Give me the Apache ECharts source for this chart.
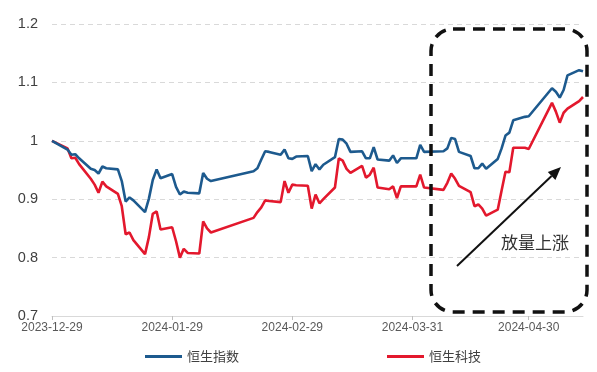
<!DOCTYPE html>
<html>
<head>
<meta charset="utf-8">
<script src="https://cdn.jsdelivr.net/npm/echarts@6/dist/echarts.min.js"></script>
<style>
html,body{margin:0;padding:0;background:#fff;}
#chart{width:597px;height:372px;}
</style>
</head>
<body>
<div id="chart"></div>
<script>
const dates = [
'2023-12-29',
'2024-01-02','2024-01-03','2024-01-04','2024-01-05','2024-01-08','2024-01-09','2024-01-10','2024-01-11','2024-01-12',
'2024-01-15','2024-01-16','2024-01-17','2024-01-18','2024-01-19','2024-01-22','2024-01-23','2024-01-24','2024-01-25','2024-01-26',
'2024-01-29','2024-01-30','2024-01-31',
'2024-02-01','2024-02-02','2024-02-05','2024-02-06','2024-02-07','2024-02-08',
'2024-02-19','2024-02-20','2024-02-21','2024-02-22','2024-02-23','2024-02-26','2024-02-27','2024-02-28','2024-02-29',
'2024-03-01','2024-03-04','2024-03-05','2024-03-06','2024-03-07','2024-03-08','2024-03-11','2024-03-12','2024-03-13','2024-03-14','2024-03-15',
'2024-03-18','2024-03-19','2024-03-20','2024-03-21','2024-03-22','2024-03-25','2024-03-26','2024-03-27','2024-03-28','2024-03-29',
'2024-04-01','2024-04-02','2024-04-03','2024-04-08','2024-04-09','2024-04-10','2024-04-11','2024-04-12',
'2024-04-15','2024-04-16','2024-04-17','2024-04-18','2024-04-19','2024-04-22','2024-04-23','2024-04-24','2024-04-25','2024-04-26',
'2024-04-29','2024-04-30',
'2024-05-06','2024-05-07','2024-05-08','2024-05-09','2024-05-10','2024-05-13','2024-05-14'
];
const hsi = [
1.000,
0.985,0.976,0.977,0.970,0.952,0.950,0.944,0.956,0.953,
0.951,0.931,0.896,0.903,0.898,0.878,0.901,0.933,0.951,0.936,
0.943,0.921,0.908,
0.913,0.911,0.910,0.945,0.935,0.931,
0.948,0.953,0.968,0.982,0.981,0.976,0.985,0.970,0.969,
0.973,0.974,0.948,0.960,0.951,0.959,0.972,1.003,1.002,0.995,0.981,
0.982,0.970,0.970,0.989,0.968,0.966,0.975,0.962,0.970,0.970,
0.970,0.993,0.981,0.982,0.987,1.005,1.003,0.981,
0.974,0.953,0.953,0.961,0.952,0.969,0.987,1.009,1.014,1.035,
1.041,1.042,
1.090,1.084,1.074,1.087,1.112,1.121,1.119
];
const hstech = [
1.000,
0.987,0.970,0.971,0.960,0.935,0.925,0.911,0.930,0.922,
0.909,0.888,0.840,0.843,0.830,0.806,0.835,0.875,0.879,0.848,
0.852,0.828,0.800,
0.815,0.808,0.807,0.862,0.850,0.843,
0.868,0.878,0.886,0.898,0.897,0.895,0.931,0.911,0.925,
0.924,0.923,0.884,0.908,0.893,0.900,0.920,0.970,0.966,0.952,0.945,
0.957,0.937,0.942,0.954,0.920,0.917,0.922,0.902,0.922,0.922,
0.922,0.942,0.920,0.916,0.928,0.944,0.935,0.923,
0.912,0.888,0.891,0.884,0.872,0.882,0.915,0.947,0.946,0.988,
0.988,0.986,
1.065,1.050,1.031,1.048,1.055,1.068,1.075
];
const tickLabels = ['2023-12-29','2024-01-29','2024-02-29','2024-03-31','2024-04-30'];
const seriesNames = ['恒生指数','恒生科技'];
const axisMin = '2023-12-29', axisMax = '2024-05-14';

function ts(s){ const p = s.split('-'); return Date.UTC(+p[0], +p[1]-1, +p[2]); }
function fmt(v){ const d = new Date(v); const m = d.getUTCMonth()+1, dd = d.getUTCDate();
  return d.getUTCFullYear() + '-' + (m<10?'0':'') + m + '-' + (dd<10?'0':'') + dd; }

const chart = echarts.init(document.getElementById('chart'), null, {renderer:'canvas'});
const tickTs = tickLabels.map(ts);

// arrow geometry
const ax0 = 457, ay0 = 266, ax1 = 561, ay1 = 167;
const dx = ax1-ax0, dy = ay1-ay0, L = Math.sqrt(dx*dx+dy*dy), ux = dx/L, uy = dy/L;
const hl = 13, hw = 5.5;
const bx = ax1 - hl*ux, by = ay1 - hl*uy;

chart.setOption({
  animation:false,
  backgroundColor:'#fff',
  grid:{left:52, right:14, top:24, bottom:56, containLabel:false},
  legend:{
    data:seriesNames, left:140, top:345, itemGap:148, itemWidth:37, itemHeight:3, icon:'rect',
    textStyle:{fontFamily:'"Noto Sans CJK SC"', fontSize:13, color:'#404040'}
  },
  xAxis:{
    type:'value', min:ts(axisMin), max:ts(axisMax),
    axisLine:{show:true, onZero:false, lineStyle:{color:'#d9d9d9', width:1}},
    axisTick:{show:true, customValues:tickTs, length:4, lineStyle:{color:'#bfbfbf'}},
    axisLabel:{customValues:tickTs, formatter:function(v){return fmt(v);}, color:'#595959', fontSize:12, fontFamily:'"Liberation Sans", Arial', margin:6},
    splitLine:{show:false}
  },
  yAxis:{
    type:'value', min:0.7, max:1.2, interval:0.1,
    axisLine:{show:false}, axisTick:{show:false},
    axisLabel:{formatter:function(v){return String(+v.toFixed(1));}, color:'#404040', fontSize:14.5, fontFamily:'"Liberation Sans", Arial', margin:14},
    splitLine:{show:true, lineStyle:{color:'#d9d9d9', type:[5,4], width:1}}
  },
  series:[
    {name:seriesNames[0], type:'line', symbol:'none', data:dates.map((d,i)=>[ts(d), hsi[i]]), lineStyle:{color:'#1d5a8e', width:2.6}, itemStyle:{color:'#1d5a8e'}, z:3},
    {name:seriesNames[1], type:'line', symbol:'none', data:dates.map((d,i)=>[ts(d), hstech[i]]), lineStyle:{color:'#e3182d', width:2.6}, itemStyle:{color:'#e3182d'}, z:2}
  ],
  graphic:[
    {type:'rect', shape:{x:431, y:29, width:156, height:283, r:22}, style:{fill:'none', stroke:'#111', lineWidth:3.5, lineDash:[12,8]}, z:10},
    {type:'line', shape:{x1:ax0, y1:ay0, x2:bx, y2:by}, style:{stroke:'#111', lineWidth:2}, z:10},
    {type:'polygon', shape:{points:[[ax1,ay1],[bx - hw*uy, by + hw*ux],[bx + hw*uy, by - hw*ux]]}, style:{fill:'#111'}, z:10},
    {type:'text', x:535, y:243, style:{text:'放量上涨', font:'17px "Noto Sans CJK SC"', fill:'#333', align:'center', verticalAlign:'middle'}, z:10}
  ]
});
</script>
</body>
</html>
